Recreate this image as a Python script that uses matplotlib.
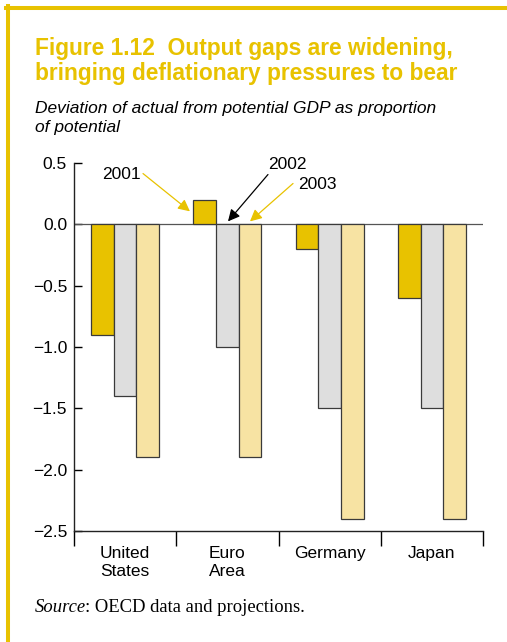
import matplotlib
matplotlib.use("Agg")
import matplotlib.pyplot as plt
from matplotlib.lines import Line2D
import numpy as np

# Output gap data (% of potential GDP)
countries = ["United\nStates", "Euro\nArea", "Germany", "Japan"]
years = ["2001", "2002", "2003"]
gap_2001 = [-0.9, 0.2, -0.2, -0.6]
gap_2002 = [-1.4, -1.0, -1.5, -1.5]
gap_2003 = [-1.9, -1.9, -2.4, -2.4]
y_ticks = [0.5, 0.0, -0.5, -1.0, -1.5, -2.0, -2.5]

GOLD = "#E8C200"
GREY = "#DEDEDE"
PALE = "#F7E3A3"
EDGE = "#3a3a3a"

W, H = 507, 642
fig = plt.figure(figsize=(W / 100, H / 100), dpi=100)
fig.patch.set_facecolor("white")

# Yellow frame (top and left rules)
fig.add_artist(Line2D([6 / W, 1.0], [1 - 8 / H, 1 - 8 / H], color=GOLD, lw=2.9,
                      transform=fig.transFigure))
fig.add_artist(Line2D([8 / W, 8 / W], [0, 1 - 6 / H], color=GOLD, lw=2.9,
                      transform=fig.transFigure))

# Titles
fig.text(35 / W, 1 - 55 / H, "Figure 1.12  Output gaps are widening,",
         color=GOLD, fontsize=16.4, fontweight="bold", family="Liberation Sans")
fig.text(35 / W, 1 - 80 / H, "bringing deflationary pressures to bear",
         color=GOLD, fontsize=16.4, fontweight="bold", family="Liberation Sans")
fig.text(35 / W, 1 - 113 / H, "Deviation of actual from potential GDP as proportion",
         color="black", fontsize=12.5, style="italic", family="Liberation Sans")
fig.text(35 / W, 1 - 132 / H, "of potential",
         color="black", fontsize=12.5, style="italic", family="Liberation Sans")

# Axes
ax_left, ax_right = 74, 483
ax_top, ax_bot = 163, 531
ax = fig.add_axes([ax_left / W, 1 - ax_bot / H, (ax_right - ax_left) / W,
                   (ax_bot - ax_top) / H])
x = np.arange(len(countries))
bw = 0.222
for off, vals, col in [(-bw, gap_2001, GOLD), (0, gap_2002, GREY), (bw, gap_2003, PALE)]:
    ax.bar(x + off, vals, width=bw, color=col, edgecolor=EDGE, linewidth=0.9, zorder=3)

ax.set_xlim(-0.5, len(countries) - 0.5)
ax.set_ylim(-2.5, 0.5)
ax.axhline(0, color="#555555", lw=0.9, zorder=2)

for s in ["top", "right"]:
    ax.spines[s].set_visible(False)
for s in ["left", "bottom"]:
    ax.spines[s].set_linewidth(1.0)
    ax.spines[s].set_color("#222222")

ax.set_yticks(y_ticks)
ax.set_yticklabels([f"{v:.1f}".replace("-", "\u2212") for v in y_ticks],
                   family="Liberation Sans", fontsize=12.5)
ax.tick_params(axis="y", direction="in", length=6, width=1.0, pad=5)

# Category separators as major ticks, labels as minor ticks
ax.set_xticks(np.arange(len(countries) + 1) - 0.5)
ax.set_xticklabels([])
ax.tick_params(axis="x", which="major", direction="out", length=11, width=1.0)
ax.set_xticks(x, minor=True)
ax.set_xticklabels(countries, minor=True, family="Liberation Sans", fontsize=12.5,
                   linespacing=1.2)
ax.tick_params(axis="x", which="minor", length=0, pad=11)

# Year annotations
ann = dict(family="Liberation Sans", fontsize=12.5, ha="center", va="center")
ax.text(-0.04, 0.41, "2001", **ann)
ax.text(1.59, 0.487, "2002", **ann, clip_on=False)
ax.text(1.88, 0.325, "2003", **ann)
for start, tip, col in [((0.175, 0.414), (0.634, 0.106), GOLD),
                        ((1.397, 0.406), (1.006, 0.024), "black"),
                        ((1.642, 0.333), (1.221, 0.024), GOLD)]:
    ax.annotate("", xy=tip, xytext=start, annotation_clip=False,
                arrowprops=dict(arrowstyle="-|>,head_length=0.7,head_width=0.35",
                                color=col, lw=0.9, shrinkA=0, shrinkB=0))

# Source line
fig.canvas.draw()
t1 = fig.text(35 / W, 1 - 612 / H, "Source", family="Liberation Serif",
              style="italic", fontsize=13.4)
fig.canvas.draw()
bb = t1.get_window_extent()
fig.text((bb.x1 - 1) / W, 1 - 612 / H, ": OECD data and projections.",
         family="Liberation Serif", fontsize=13.4)

fig.savefig("out.png", dpi=100)
